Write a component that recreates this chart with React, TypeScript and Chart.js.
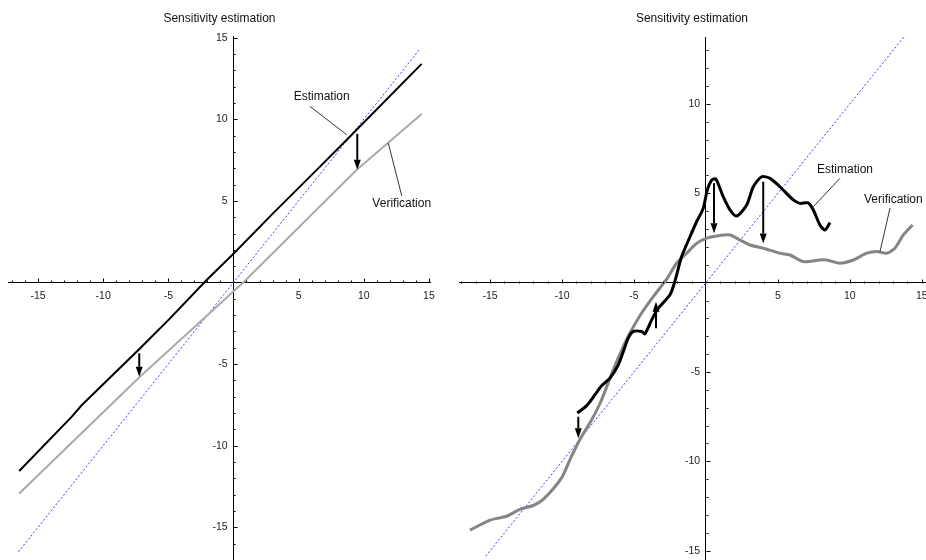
import React, { useEffect, useRef } from 'react';
import { Chart, registerables } from 'chart.js';

Chart.register(...registerables);

// ---------- data ----------
const titleText = 'Sensitivity estimation';

// left panel
const leftEstX = [-16.44, -12.42, -11.65, -7.18, -4.87, -2.06, 0.04, 3.05, 6.64, 8.94, 14.44];
const leftEstY = [-11.55, -8.23, -7.52, -4.04, -2.2, 0.15, 1.79, 4.25, 7.1, 8.94, 13.39];
const leftVerX = [-16.44, -7.18, 0.75, 9.46, 14.44];
const leftVerY = [-12.93, -5.78, 0.0, 6.9, 10.32];
const leftDiag = [-16.5, 14.3];
const leftXTicks = [-15, -10, -5, 5, 10, 15];
const leftYTicks = [-15, -10, -5, 5, 10, 15];
const leftArrows = [[9.5, 9.11, 6.9], [-7.23, -4.34, -5.78]];
const leftLabels: [string, number, number][] = [['Estimation', 6.77, 11.4], ['Verification', 12.91, 4.82]];
const leftLeaders = [[5.87, 10.79, 8.69, 9.05], [12.91, 5.31, 11.88, 8.54]];

// right panel
const rightEstX = [-8.94, -8.29, -7.71, -7.25, -6.67, -6.09, -5.74, -5.4, -5.05, -4.47, -4.24, -3.77, -3.31, -2.5, -2.15, -1.69, -1.11, -0.65, -0.19, 0.09, 0.4, 0.69, 1.2, 1.67, 2.13, 2.83, 3.29, 3.87, 4.45, 5.14, 6.07, 6.53, 7.11, 7.46, 7.92, 8.27, 8.62];
const rightEstY = [-7.29, -6.88, -6.27, -5.77, -5.34, -4.59, -3.85, -3.1, -2.73, -2.73, -2.86, -2.08, -1.43, -0.68, 0.1, 1.46, 2.57, 3.41, 4.16, 5.18, 5.74, 5.8, 4.81, 4.07, 3.73, 4.35, 5.37, 5.93, 5.84, 5.37, 4.63, 4.44, 4.47, 4.07, 3.23, 2.95, 3.36];
const rightVerX = [-16.4, -15.0, -13.85, -12.93, -12.0, -11.31, -10.03, -9.45, -8.76, -7.94, -7.25, -6.44, -5.74, -5.28, -4.47, -3.66, -2.73, -2.04, -1.34, -0.65, 0.05, 0.74, 1.67, 2.36, 3.06, 3.98, 5.14, 5.84, 6.76, 7.92, 8.39, 9.31, 10.24, 11.17, 11.86, 12.56, 13.13, 13.71, 14.36];
const rightVerY = [-13.85, -13.29, -13.07, -12.69, -12.47, -12.13, -10.92, -9.9, -8.78, -7.67, -6.55, -4.87, -3.57, -2.82, -1.7, -0.78, 0.2, 1.09, 1.65, 2.2, 2.49, 2.61, 2.67, 2.39, 2.11, 1.93, 1.65, 1.55, 1.18, 1.27, 1.27, 1.09, 1.27, 1.65, 1.74, 1.65, 1.93, 2.67, 3.23];
const rightDiag = [-15.3, 13.8];
const rightXTicks = [-15, -10, -5, 5, 10, 15];
const rightYTicks = [-15, -10, -5, 5, 10];
const rightArrows = [[0.56, 5.57, 2.77], [3.98, 5.65, 2.2], [-8.87, -7.5, -8.71], [-3.47, -2.55, -1.06]];
const rightLabels: [string, number, number][] = [['Estimation', 9.66, 6.31], ['Verification', 13.02, 4.63]];
const rightLeaders = [[9.31, 5.84, 7.46, 4.25], [12.79, 4.18, 12.09, 1.73]];

const FONT = '"Liberation Sans", Arial, sans-serif';

const pts = (xs: number[], ys: number[]) => xs.map((x, i) => ({ x, y: ys[i] }));

const decoPlugin = {
  id: 'deco',
  afterDraw(chart: any, _args: any, opts: any) {
    const { ctx } = chart;
    const xs = chart.scales.x;
    const ys = chart.scales.y;
    const x0 = xs.getPixelForValue(0);
    const y0 = ys.getPixelForValue(0);
    ctx.save();
    // tick marks
    ctx.strokeStyle = '#000';
    ctx.lineWidth = 1;
    ctx.beginPath();
    for (let v = Math.ceil(xs.min); v <= xs.max; v++) {
      if (v === 0) continue;
      const px = Math.round(xs.getPixelForValue(v)) + 0.5;
      const len = v % 5 === 0 ? 4 : 2;
      ctx.moveTo(px, Math.round(y0) + 0.5);
      ctx.lineTo(px, Math.round(y0) + 0.5 - len);
    }
    for (let v = Math.ceil(ys.min); v <= ys.max; v++) {
      if (v === 0) continue;
      const py = Math.round(ys.getPixelForValue(v)) + 0.5;
      const len = v % 5 === 0 ? 4 : 2;
      ctx.moveTo(Math.round(x0) + 0.5, py);
      ctx.lineTo(Math.round(x0) + 0.5 + len, py);
    }
    ctx.stroke();

    // title
    ctx.fillStyle = '#111';
    ctx.font = '12px ' + FONT;
    ctx.textAlign = 'center';
    ctx.textBaseline = 'middle';
    ctx.fillText(titleText, x0 - 14, 19);

    // leader lines
    ctx.strokeStyle = '#333';
    ctx.lineWidth = 1;
    for (const [a, b, c, d] of opts.leaders) {
      ctx.beginPath();
      ctx.moveTo(xs.getPixelForValue(a), ys.getPixelForValue(b));
      ctx.lineTo(xs.getPixelForValue(c), ys.getPixelForValue(d));
      ctx.stroke();
    }
    // labels
    ctx.fillStyle = '#111';
    for (const [t, a, b] of opts.labels) {
      ctx.fillText(t, xs.getPixelForValue(a), ys.getPixelForValue(b));
    }
    // arrows
    ctx.strokeStyle = '#000';
    ctx.fillStyle = '#000';
    for (const [a, yf, yt] of opts.arrows) {
      const px = xs.getPixelForValue(a);
      const p1 = ys.getPixelForValue(yf);
      const p2 = ys.getPixelForValue(yt);
      const dir = p2 > p1 ? 1 : -1;
      const head = 10;
      ctx.lineWidth = 2;
      ctx.beginPath();
      ctx.moveTo(px, p1);
      ctx.lineTo(px, p2 - dir * head);
      ctx.stroke();
      ctx.beginPath();
      ctx.moveTo(px, p2);
      ctx.lineTo(px - 3.5, p2 - dir * head);
      ctx.lineTo(px + 3.5, p2 - dir * head);
      ctx.closePath();
      ctx.fill();
    }
    ctx.restore();
  },
};

function makeConfig(p: any) {
  const zeroPad = (s: any) => {
    s.paddingLeft = 0;
    s.paddingRight = 0;
    s.paddingTop = 0;
    s.paddingBottom = 0;
  };
  return {
    type: 'scatter',
    data: {
      datasets: [
        {
          data: pts(p.estX, p.estY),
          showLine: true,
          borderColor: '#000',
          borderWidth: p.lw,
          pointRadius: 0,
          tension: p.tension,
        },
        {
          data: pts(p.verX, p.verY),
          showLine: true,
          borderColor: p.grey,
          borderWidth: p.lw,
          pointRadius: 0,
          tension: p.tension,
        },
        {
          data: pts(p.diag, p.diag),
          showLine: true,
          borderColor: '#3a3aff',
          borderWidth: 1,
          borderDash: [2, 2],
          pointRadius: 0,
        },
      ],
    },
    options: {
      animation: false,
      responsive: false,
      devicePixelRatio: 1,
      layout: { padding: p.padding },
      plugins: {
        legend: { display: false },
        tooltip: { enabled: false },
        title: { display: false },
        deco: { arrows: p.arrows, labels: p.labels, leaders: p.leaders },
      },
      scales: {
        x: {
          type: 'linear',
          position: { y: 0 },
          min: p.xmin,
          max: p.xmax,
          grid: { display: false, drawTicks: false },
          border: { display: true, color: '#000', width: 1 },
          afterFit: zeroPad,
          afterBuildTicks: (s: any) => {
            s.ticks = p.xTicks.map((v: number) => ({ value: v }));
          },
          ticks: {
            autoSkip: false,
            maxRotation: 0,
            padding: 7,
            color: '#222',
            font: { family: FONT, size: 10.5 },
          },
        },
        y: {
          type: 'linear',
          position: { x: 0 },
          min: p.ymin,
          max: p.ymax,
          grid: { display: false, drawTicks: false },
          border: { display: true, color: '#000', width: 1 },
          afterFit: zeroPad,
          afterBuildTicks: (s: any) => {
            s.ticks = p.yTicks.map((v: number) => ({ value: v }));
          },
          ticks: {
            autoSkip: false,
            padding: 6,
            color: '#222',
            font: { family: FONT, size: 10.5 },
            callback: (v: any) => String(v) + '  ',
          },
        },
      },
    },
    plugins: [decoPlugin],
  };
}

const leftPanel = {
  estX: leftEstX, estY: leftEstY, verX: leftVerX, verY: leftVerY, diag: leftDiag,
  xTicks: leftXTicks, yTicks: leftYTicks, arrows: leftArrows, labels: leftLabels, leaders: leftLeaders,
  xmin: -17.3, xmax: 15.08, ymin: -17.0, ymax: 15.1,
  padding: { left: 8, right: 15, top: 36, bottom: 0 },
  lw: 2, grey: '#aaaaaa', tension: 0,
};

const rightPanel = {
  estX: rightEstX, estY: rightEstY, verX: rightVerX, verY: rightVerY, diag: rightDiag,
  xTicks: rightXTicks, yTicks: rightYTicks, arrows: rightArrows, labels: rightLabels, leaders: rightLeaders,
  xmin: -17.16, xmax: 15.29, ymin: -15.52, ymax: 13.75,
  padding: { left: 14, right: 0, top: 37, bottom: 0 },
  lw: 3, grey: '#858585', tension: 0.25,
};

function Panel({ cfg, left, width }: { cfg: any; left: number; width: number }) {
  const ref = useRef<HTMLCanvasElement>(null);
  useEffect(() => {
    if (!ref.current) return;
    const chart = new Chart(ref.current, makeConfig(cfg) as any);
    return () => chart.destroy();
  }, [cfg]);
  return (
    <canvas
      ref={ref}
      width={width}
      height={560}
      style={{ position: 'absolute', left, top: 0, width, height: 560 }}
    />
  );
}

export default function App() {
  return (
    <div style={{ position: 'fixed', left: 0, top: 0, width: 926, height: 560, background: '#fff', overflow: 'hidden' }}>
      <Panel cfg={leftPanel} left={0} width={445} />
      <Panel cfg={rightPanel} left={445} width={481} />
    </div>
  );
}
